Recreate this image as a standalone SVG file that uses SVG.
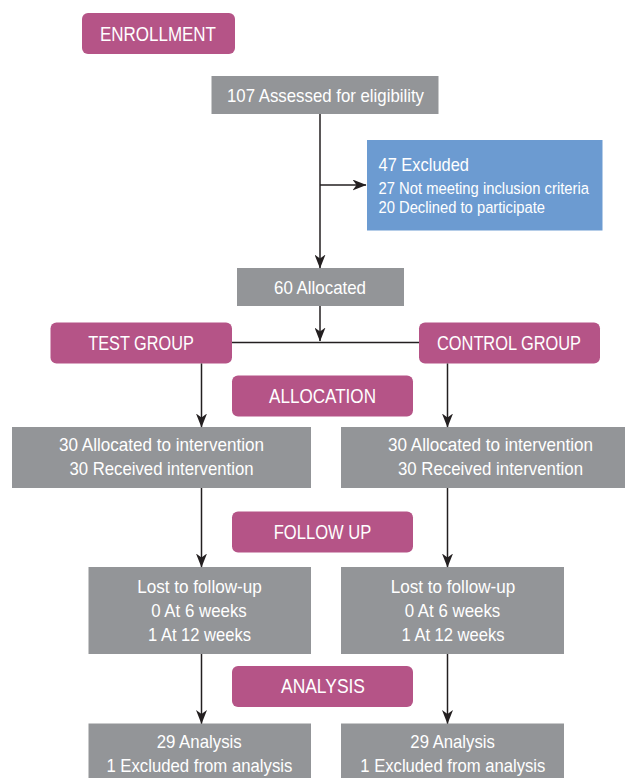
<svg xmlns="http://www.w3.org/2000/svg" width="625" height="778" viewBox="0 0 625 778">
<defs>
<marker id="arr" markerUnits="userSpaceOnUse" markerWidth="14" markerHeight="11" refX="13.5" refY="5.5" orient="auto">
<path d="M0,0 L14,5.5 L0,11 L4,5.5 Z" fill="#231f20"/>
</marker>
<style>
.stage{fill:#b55487}
.box{fill:#939598}
.excl{fill:#6c9bd1}
text{font-family:"Liberation Sans",Arial,sans-serif;fill:#ffffff;text-anchor:middle}
.t20{font-size:20px}
.t18{font-size:18.6px}
.t16{font-size:16.3px}
.left{text-anchor:start}
.conn line{stroke:#231f20;stroke-width:1.5;fill:none}
</style>
</defs>
<rect width="625" height="778" fill="#ffffff"/>

<g id="enrollment">
<rect class="stage" x="82" y="13" width="153" height="41" rx="6"/>
<text class="t20" x="158" y="41" textLength="116" lengthAdjust="spacingAndGlyphs">ENROLLMENT</text>
</g>

<g id="assessed">
<rect class="box" x="211.5" y="76" width="227" height="38"/>
<text class="t18" x="325.5" y="102" textLength="197" lengthAdjust="spacingAndGlyphs">107 Assessed for eligibility</text>
</g>

<g id="excluded">
<rect class="excl" x="367" y="140" width="235.5" height="90.5"/>
<text class="t18 left" x="378.5" y="171" textLength="90.5" lengthAdjust="spacingAndGlyphs">47 Excluded</text>
<text class="t16 left" x="378.5" y="193.5" textLength="210.5" lengthAdjust="spacingAndGlyphs">27 Not meeting inclusion criteria</text>
<text class="t16 left" x="378.5" y="213" textLength="166.5" lengthAdjust="spacingAndGlyphs">20 Declined to participate</text>
</g>

<g id="allocated">
<rect class="box" x="237" y="268" width="167" height="38"/>
<text class="t18" x="320" y="293.5" textLength="92" lengthAdjust="spacingAndGlyphs">60 Allocated</text>
</g>

<g id="test-group">
<rect class="stage" x="50.5" y="322.5" width="181.5" height="41" rx="6"/>
<text class="t20" x="141" y="350" textLength="105.5" lengthAdjust="spacingAndGlyphs">TEST GROUP</text>
</g>

<g id="control-group">
<rect class="stage" x="419" y="322.5" width="181" height="41" rx="6"/>
<text class="t20" x="509" y="350" textLength="144" lengthAdjust="spacingAndGlyphs">CONTROL GROUP</text>
</g>

<g id="allocation">
<rect class="stage" x="232" y="375.5" width="181" height="41" rx="6"/>
<text class="t20" x="322.5" y="403" textLength="107" lengthAdjust="spacingAndGlyphs">ALLOCATION</text>
</g>

<g id="test-intervention">
<rect class="box" x="12" y="427" width="299" height="61"/>
<text class="t18" x="161.5" y="451" textLength="205" lengthAdjust="spacingAndGlyphs">30 Allocated to intervention</text>
<text class="t18" x="161.5" y="475" textLength="184" lengthAdjust="spacingAndGlyphs">30 Received intervention</text>
</g>

<g id="control-intervention">
<rect class="box" x="341" y="427" width="300" height="61"/>
<text class="t18" x="490.5" y="451" textLength="205" lengthAdjust="spacingAndGlyphs">30 Allocated to intervention</text>
<text class="t18" x="490.5" y="475" textLength="185" lengthAdjust="spacingAndGlyphs">30 Received intervention</text>
</g>

<g id="follow-up">
<rect class="stage" x="232" y="511.5" width="181" height="41" rx="6"/>
<text class="t20" x="322.5" y="539" textLength="97.5" lengthAdjust="spacingAndGlyphs">FOLLOW UP</text>
</g>

<g id="test-lost">
<rect class="box" x="88.5" y="567" width="222.5" height="87"/>
<text class="t18" x="199.5" y="593" textLength="124.5" lengthAdjust="spacingAndGlyphs">Lost to follow-up</text>
<text class="t18" x="199" y="617" textLength="95.5" lengthAdjust="spacingAndGlyphs">0 At 6 weeks</text>
<text class="t18" x="199.5" y="641" textLength="103" lengthAdjust="spacingAndGlyphs">1 At 12 weeks</text>
</g>

<g id="control-lost">
<rect class="box" x="341" y="567" width="223" height="87"/>
<text class="t18" x="453" y="593" textLength="124.5" lengthAdjust="spacingAndGlyphs">Lost to follow-up</text>
<text class="t18" x="452.5" y="617" textLength="95.5" lengthAdjust="spacingAndGlyphs">0 At 6 weeks</text>
<text class="t18" x="453" y="641" textLength="103" lengthAdjust="spacingAndGlyphs">1 At 12 weeks</text>
</g>

<g id="analysis">
<rect class="stage" x="232" y="666" width="181" height="41" rx="6"/>
<text class="t20" x="323" y="693" textLength="84" lengthAdjust="spacingAndGlyphs">ANALYSIS</text>
</g>

<g id="test-analysis">
<rect class="box" x="88.5" y="723.5" width="222.5" height="60"/>
<text class="t18" x="199.2" y="748" textLength="85" lengthAdjust="spacingAndGlyphs">29 Analysis</text>
<text class="t18" x="199.4" y="772" textLength="186" lengthAdjust="spacingAndGlyphs">1 Excluded from analysis</text>
</g>

<g id="control-analysis">
<rect class="box" x="341" y="723.5" width="223" height="60"/>
<text class="t18" x="452.6" y="748" textLength="84.5" lengthAdjust="spacingAndGlyphs">29 Analysis</text>
<text class="t18" x="452.8" y="772" textLength="185" lengthAdjust="spacingAndGlyphs">1 Excluded from analysis</text>
</g>

<g id="connectors" class="conn">
<line x1="320" y1="114" x2="320" y2="268" marker-end="url(#arr)"/>
<line x1="320" y1="185" x2="366" y2="185" marker-end="url(#arr)"/>
<line x1="320" y1="306" x2="320" y2="341" marker-end="url(#arr)"/>
<line x1="232" y1="342.5" x2="419" y2="342.5"/>
<line x1="201.5" y1="363.5" x2="201.5" y2="427" marker-end="url(#arr)"/>
<line x1="447.5" y1="363.5" x2="447.5" y2="427" marker-end="url(#arr)"/>
<line x1="201.5" y1="488" x2="201.5" y2="567" marker-end="url(#arr)"/>
<line x1="447.5" y1="488" x2="447.5" y2="567" marker-end="url(#arr)"/>
<line x1="201.5" y1="654" x2="201.5" y2="723.5" marker-end="url(#arr)"/>
<line x1="447.5" y1="654" x2="447.5" y2="723.5" marker-end="url(#arr)"/>
</g>
</svg>
